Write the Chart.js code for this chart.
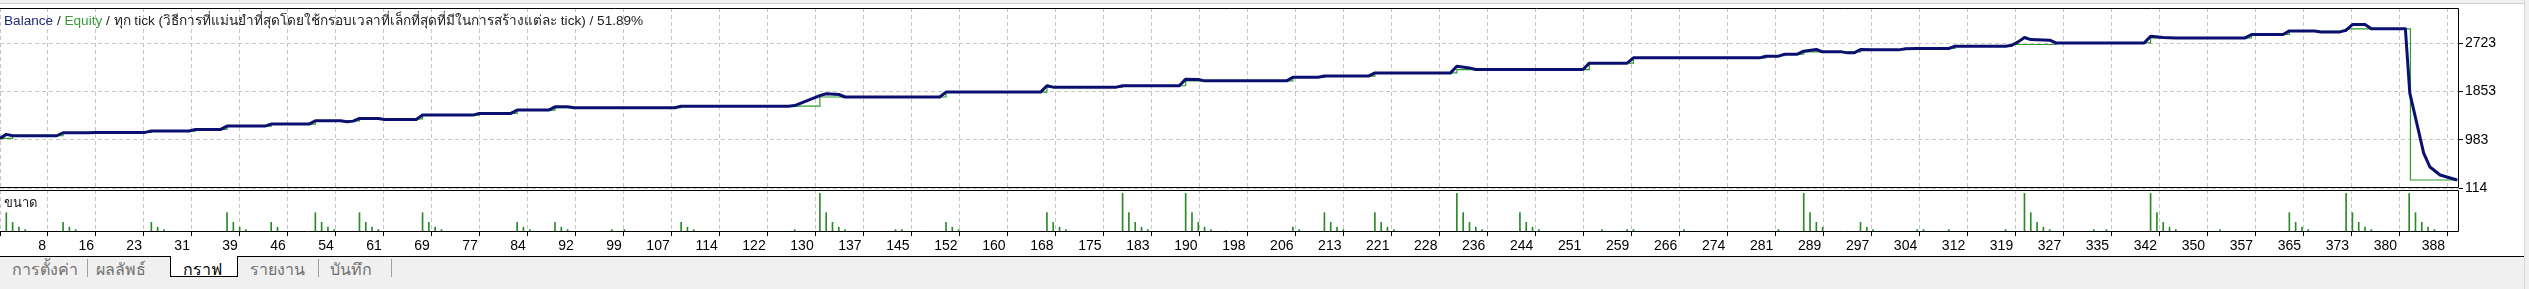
<!DOCTYPE html>
<html><head><meta charset="utf-8">
<script src="https://cdn.jsdelivr.net/npm/chart.js@4.4.1/dist/chart.umd.min.js"></script>
<style>
html,body{margin:0;padding:0;background:#fff;width:2529px;height:289px;overflow:hidden;font-family:Tahoma,"Liberation Sans","DejaVu Sans",sans-serif;}
.abs{position:absolute;white-space:nowrap;}
canvas{position:absolute;left:0;}
#cA{top:0;}
#cB{top:188px;}
.tab{position:absolute;top:260px;font-size:16px;color:#707070;line-height:20px;}
.sep{position:absolute;top:259px;width:1px;height:18px;background:#a0a0a0;}
</style></head>
<body>
<div class="abs" style="left:0;top:0;width:2529px;height:3px;background:#f0f0f0;border-bottom:1px solid #cfcfcf"></div>
<div class="abs" style="left:2524px;top:0;width:5px;height:289px;background:#f0f0f0;border-left:1px solid #dadada"></div>
<canvas id="cA" width="2529" height="200"></canvas>
<canvas id="cB" width="2529" height="70"></canvas>
<div class="abs" style="left:0;top:256px;width:2524px;height:33px;background:#f0f0f0;border-top:1px solid #000"></div>
<div class="abs" style="left:170px;top:256px;width:66px;height:20px;background:#fff;border:1px solid #000;border-top:none"></div>
<div class="tab" style="left:12px">การตั้งค่า</div>
<div class="sep" style="left:87px"></div>
<div class="tab" style="left:96px">ผลลัพธ์</div>
<div class="tab" style="left:183px;color:#000">กราฟ</div>
<div class="tab" style="left:250px">รายงาน</div>
<div class="sep" style="left:318px"></div>
<div class="tab" style="left:330px">บันทึก</div>
<div class="sep" style="left:391px"></div>
<div class="abs" style="left:4px;top:13px;font-size:13.6px;line-height:16px;color:#222"><span style="color:#1f2a7a">Balance</span> / <span style="color:#3a9d3a">Equity</span> / ทุก tick (วิธีการที่แม่นยำที่สุดโดยใช้กรอบเวลาที่เล็กที่สุดที่มีในการสร้างแต่ละ tick) / 51.89%</div>
<div class="abs" style="left:4px;top:195px;font-size:13px;line-height:16px;color:#222">ขนาด</div>
<script>
// ---- data ----
const xTickLabels = ["0","8","16","23","31","39","46","54","61","69","77","84","92","99","107","114","122","130","137","145","152","160","168","175","183","190","198","206","213","221","228","236","244","251","259","266","274","281","289","297","304","312","319","327","335","342","350","357","365","373","380","388"];
const xLast = 388;          // value of the last tick label
const xMax = 389.9;         // right end of the plot (trade number)
const yTickValues = [114, 983.67, 1853.33, 2723];
const yTickLabels = ["114","983","1853","2723"];
const yMin = 114, yMax = 3360;
const volMax = 0.174;

// equity: [trade, value]
const equity = [[0,1009],[1,1081],[2,1056],[9,1056],[10,1110],[14,1110],[15,1117],[23,1117],[24,1141],[30,1141],[31,1171],[35,1171],[36,1231],[42,1231],[43,1267],[49,1267],[50,1326],[54,1326],[55,1308],[56,1320],[57,1369],[60,1369],[61,1351],[66,1351],[67,1429],[75,1429],[76,1459],[81,1459],[82,1519],[87,1519],[88,1578],[90,1578],[91,1560],[107,1560],[108,1590],[125,1590],[126,1600],[130,1780],[131,1814],[133,1800],[134,1755],[149,1755],[150,1843],[165,1843],[166,1958],[167,1933],[177,1933],[178,1958],[187,1958],[188,2077],[190,2070],[191,2046],[204,2046],[205,2110],[209,2110],[210,2133],[217,2133],[218,2190],[230,2190],[231,2311],[233,2280],[234,2250],[251,2250],[252,2365],[258,2365],[259,2461],[279,2461],[280,2491],[282,2491],[283,2527],[285,2527],[286,2581],[288,2612],[289,2569],[292,2569],[293,2551],[294,2551],[295,2612],[297,2605],[301,2605],[302,2623],[304,2630],[309,2630],[310,2671],[318,2671],[319,2689],[320,2749],[321,2828],[322,2790],[325,2780],[326,2731],[340,2731],[341,2850],[343,2830],[345,2821],[356,2821],[357,2882],[362,2882],[363,2947],[367,2947],[368,2929],[371,2929],[372,2960],[373,3062],[375,3062],[376,2985],[381.4,2985],[382.1,1825],[383.2,1285],[384.3,744],[385.3,492],[386.9,348],[389.6,258]];

// balance: [trade, value] (value holds until next point)
const balance = [[0,1009],[2,1056],[10,1110],[15,1117],[24,1141],[31,1171],[36,1231],[43,1267],[50,1326],[57,1360],[67,1429],[76,1459],[82,1519],[88,1565],[108,1590],[130,1755],[150,1843],[166,1933],[178,1958],[188,2046],[205,2110],[210,2133],[218,2190],[231,2250],[252,2365],[259,2461],[280,2500],[283,2527],[286,2569],[295,2605],[302,2630],[310,2671],[319,2702],[326,2731],[341,2821],[357,2882],[363,2940],[372,2985],[382.2,258],[389.9,258]];

// volume (lots): [trade, lots]
const volume = [[1,0.08],[2,0.04],[3,0.02],[4,0.01],[10,0.04],[11,0.02],[12,0.01],[24,0.04],[25,0.02],[26,0.01],[36,0.08],[37,0.04],[38,0.02],[39,0.01],[43,0.04],[44,0.02],[50,0.08],[51,0.04],[52,0.02],[53,0.01],[57,0.08],[58,0.04],[59,0.02],[60,0.01],[67,0.08],[68,0.04],[69,0.02],[70,0.01],[82,0.04],[83,0.02],[84,0.01],[88,0.04],[89,0.02],[90,0.01],[97,0.01],[99,0.01],[108,0.04],[109,0.02],[110,0.01],[126,0.01],[130,0.16],[131,0.08],[132,0.04],[133,0.02],[134,0.01],[142,0.01],[143,0.01],[150,0.04],[151,0.02],[152,0.01],[166,0.08],[167,0.04],[168,0.02],[169,0.01],[178,0.16],[179,0.08],[180,0.04],[181,0.02],[182,0.01],[188,0.16],[189,0.08],[190,0.04],[191,0.02],[192,0.01],[205,0.02],[206,0.01],[210,0.08],[211,0.04],[212,0.02],[213,0.01],[218,0.08],[219,0.04],[220,0.02],[221,0.01],[231,0.16],[232,0.08],[233,0.04],[234,0.02],[235,0.01],[241,0.08],[242,0.04],[243,0.02],[244,0.01],[254,0.01],[258,0.01],[259,0.01],[267,0.01],[282,0.01],[286,0.16],[287,0.08],[288,0.04],[289,0.02],[295,0.04],[296,0.02],[297,0.01],[304,0.01],[305,0.01],[309,0.01],[318,0.01],[321,0.16],[322,0.08],[323,0.04],[324,0.02],[325,0.01],[332,0.01],[334,0.01],[341,0.16],[342,0.08],[343,0.04],[344,0.02],[345,0.01],[352,0.01],[363,0.08],[364,0.04],[365,0.02],[366,0.01],[372,0.16],[373,0.08],[374,0.04],[375,0.02],[376,0.01],[382,0.16],[383,0.08],[384,0.04],[385,0.02],[386,0.01]];

// ---- chart ----
const xTickPos = xTickLabels.map((_, k) => k * xLast / (xTickLabels.length - 1));
const FONT = {family: 'Tahoma, "Liberation Sans", "DejaVu Sans", sans-serif', size: 14};
const GRID = '#c6c6c6';
const DASH = [4, 3];
const toXY = arr => arr.map(p => ({x: p[0], y: p[1]}));

const frame = {
  id: 'frame',
  afterDraw(c) {
    const {ctx, chartArea: a} = c;
    ctx.save();
    ctx.strokeStyle = '#000';
    ctx.lineWidth = 1;
    ctx.beginPath();
    const t = Math.round(a.top) + 0.5, b = Math.round(a.bottom) - 0.5, r = Math.round(a.right) - 0.5;
    ctx.moveTo(0, t); ctx.lineTo(r, t); ctx.lineTo(r, b); ctx.lineTo(0, b);
    ctx.stroke();
    ctx.restore();
  }
};
const noPad = s => { s.paddingLeft = 0; s.paddingRight = 0; s.paddingTop = 0; s.paddingBottom = 0; };

new Chart(document.getElementById('cA'), {
  type: 'line',
  data: {datasets: [
    {label: 'Equity', data: toXY(equity), borderColor: '#0b1070', borderWidth: 3, pointRadius: 0, tension: 0, order: 0, borderJoinStyle: 'round'},
    {label: 'Balance', data: toXY(balance), borderColor: '#2e9a2e', borderWidth: 1.2, pointRadius: 0, stepped: true, order: 1}
  ]},
  options: {
    responsive: false, animation: false, events: [],
    layout: {padding: {top: 8, bottom: 12, left: 0, right: 0}},
    plugins: {legend: {display: false}, tooltip: {enabled: false}},
    scales: {
      x: {type: 'linear', min: 0, max: xMax,
          afterBuildTicks: s => { s.ticks = xTickPos.map(v => ({value: v})); },
          ticks: {display: false},
          grid: {color: GRID, drawTicks: false},
          border: {display: false, dash: DASH},
          afterFit: s => { s.height = 0; noPad(s); }},
      y: {type: 'linear', position: 'right', min: yMin, max: yMax,
          afterBuildTicks: s => { s.ticks = yTickValues.map(v => ({value: v})); },
          ticks: {callback: (v, i) => yTickLabels[i], font: FONT, color: '#000', padding: 2},
          grid: {color: GRID, tickColor: '#000', tickLength: 4},
          border: {display: false, dash: DASH},
          afterFit: s => { s.width = 70; noPad(s); }}
    }
  },
  plugins: [frame]
});

new Chart(document.getElementById('cB'), {
  type: 'bar',
  data: {datasets: [
    {label: 'Volume', data: toXY(volume), backgroundColor: '#2a8a2a', borderWidth: 0, barThickness: 1}
  ]},
  options: {
    responsive: false, animation: false, events: [],
    layout: {padding: {top: 2, bottom: 2, left: 0, right: 0}},
    plugins: {legend: {display: false}, tooltip: {enabled: false}},
    scales: {
      x: {type: 'linear', min: 0, max: xMax, offset: false,
          afterBuildTicks: s => { s.ticks = xTickPos.map(v => ({value: v})); },
          ticks: {callback: (v, i) => xTickLabels[i], font: FONT, color: '#000', align: 'end', labelOffset: -2, autoSkip: false, maxRotation: 0, padding: 2},
          grid: {color: GRID, offset: false, tickColor: '#000', tickLength: 4},
          border: {display: false, dash: DASH},
          afterFit: s => { s.height = 24; noPad(s); }},
      y: {type: 'linear', position: 'right', min: 0, max: volMax,
          ticks: {display: false},
          grid: {display: false},
          border: {display: false},
          afterFit: s => { s.width = 70; noPad(s); }}
    }
  },
  plugins: [frame]
});
</script>
</body></html>
